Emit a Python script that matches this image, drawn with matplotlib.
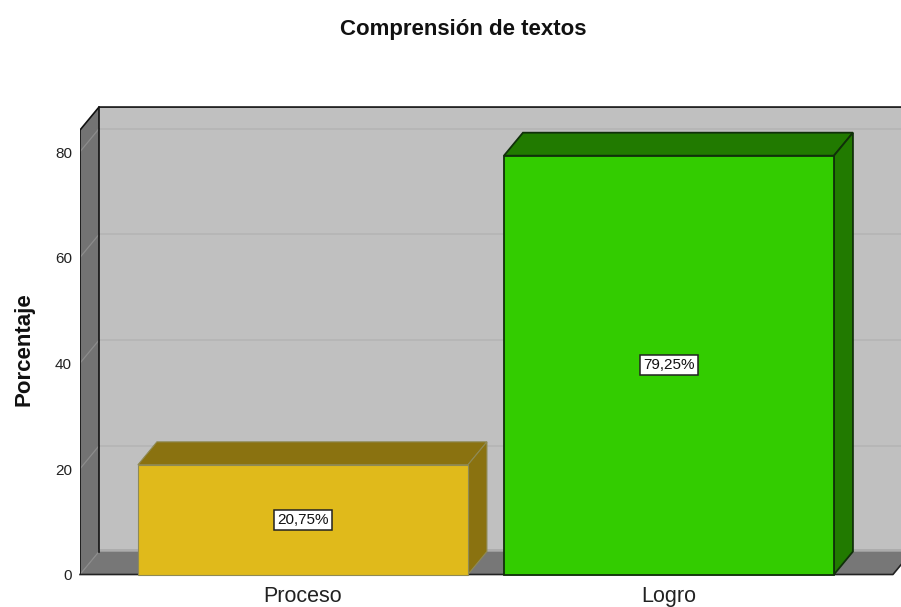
#!/usr/bin/env python3
"""Comprension de textos: barras con falso 3D."""

import matplotlib
matplotlib.use("Agg")
import matplotlib.pyplot as plt

plt.rcParams["font.family"] = ["Liberation Sans", "DejaVu Sans"]

categorias = ["Proceso", "Logro"]
porcentajes = [20.75, 79.25]
etiquetas = ["20,75%", "79,25%"]
colores = ["#e0ba1b", "#33cc00"]
oscuros = ["#8a7210", "#217a00"]
bordes = ["#8f8a55", "#10300a"]
yticks = [0, 20, 40, 60, 80]

W, H = 901, 607
ancho = 0.9016
# profundidad del falso 3D, en unidades de datos
dx, dy = 0.0519, 4.35
xl, xr = -0.609, 1.612      # plano frontal: izquierda / derecha
techo = 84.1

fig = plt.figure(figsize=(W / 100, H / 100), dpi=100, facecolor="white")
ax = fig.add_axes([80 / W, 1 - 574.5 / H, 821 / W, 468.5 / H])
ax.set_xlim(xl, 1.634)
ax.set_ylim(0, techo + dy + 0.2)
ax.axis("off")

# pared del fondo, pared lateral y suelo
ax.fill([xl + dx, xr + 2 * dx, xr + 2 * dx, xl + dx], [dy, dy, techo + dy, techo + dy],
        color="#c0c0c0", lw=0, zorder=1)
ax.fill([xl, xl + dx, xl + dx, xl], [0, dy, techo + dy, techo],
        facecolor="#737373", edgecolor="none", zorder=2)
ax.fill([xl, xl + dx, xr + dx, xr], [0, dy, dy, 0],
        facecolor="#777777", edgecolor="none", zorder=2)

for v in yticks:
    if v > 0:
        ax.plot([xl + dx, xr + dx], [v + dy, v + dy], color="#b4b4b4", lw=1.2, zorder=1.5)
    ax.plot([xl, xl + dx], [v, v + dy], color="#8c8c8c", lw=0.9, zorder=2.5)

ax.plot([xl + dx, xr + dx], [dy + 0.35, dy + 0.35], color="#a8a8a8", lw=1.2, zorder=2.5)
k = "#111111"
ax.plot([xl, xl, xl + dx, xr + 2 * dx], [0, techo, techo + dy, techo + dy], color=k, lw=1.2, zorder=3)
ax.plot([xl + dx, xl + dx], [dy, techo + dy], color=k, lw=1.2, zorder=3)
ax.plot([xl, xr, xr + dx], [0, 0, dy], color="#222222", lw=1.2, zorder=3, clip_on=False)

# barras: cara frontal con ax.bar, tapa y lateral con fill
for i, (v, c, o, b, t) in enumerate(zip(porcentajes, colores, oscuros, bordes, etiquetas)):
    x0, x1 = i - ancho / 2, i + ancho / 2
    ax.fill([x0, x0 + dx, x1 + dx, x1], [v, v + dy, v + dy, v],
            facecolor=o, edgecolor=b, lw=0.8 + i * 0.5, zorder=4)
    ax.fill([x1, x1 + dx, x1 + dx, x1], [0, dy, v + dy, v],
            facecolor=o, edgecolor=b, lw=0.8 + i * 0.5, zorder=4)
    ax.bar(i, v, width=ancho, color=c, edgecolor=b, lw=0.8 + i * 0.5, zorder=5, clip_on=False)
    ax.text(i, v / 2, t, ha="center", va="center", fontsize=11, color="#111111", zorder=6,
            bbox=dict(boxstyle="square,pad=0.2", fc="white", ec="#222222", lw=1.1))
    ax.text(i, -4.2, categorias[i], ha="center", va="center", fontsize=15.5, color="#222222",
            clip_on=False)

for v in yticks:
    ax.text(xl - 0.022, v - 0.35, str(v), ha="right", va="center", fontsize=11, color="#222222",
            clip_on=False)

fig.text(463 / W, 1 - 30 / H, "Comprensión de textos", ha="center", va="center",
         fontsize=16, fontweight="bold", color="#111111")
fig.text(24 / W, 1 - 349 / H, "Porcentaje", ha="center", va="center", rotation=90,
         fontsize=16, fontweight="bold", color="#111111")

fig.savefig("out.png", dpi=100)
